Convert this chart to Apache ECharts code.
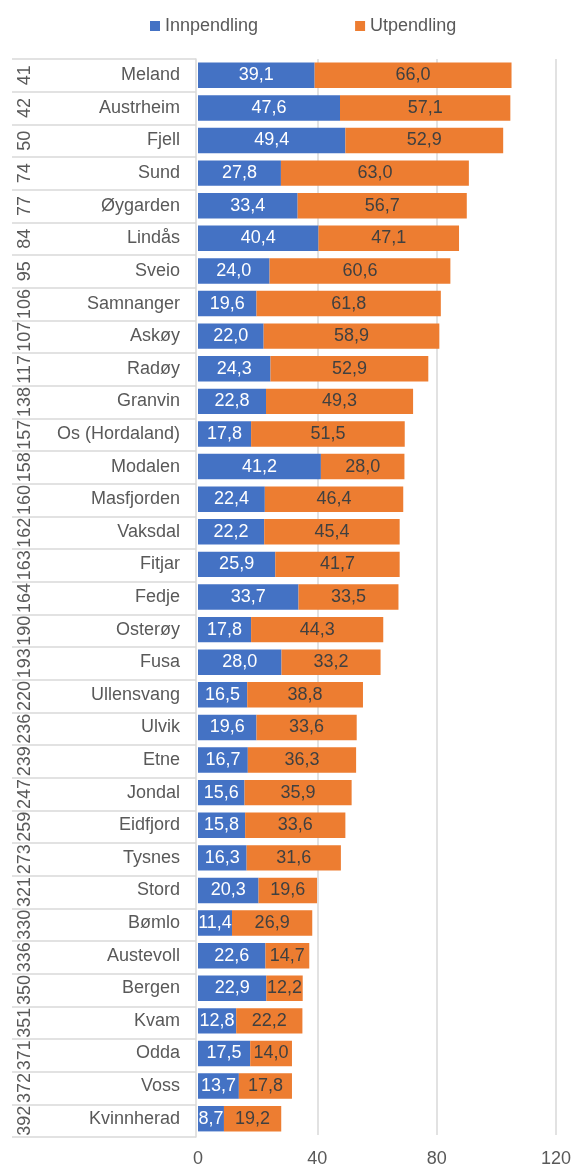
<!DOCTYPE html>
<html>
<head>
<meta charset="utf-8">
<script src="https://cdn.jsdelivr.net/npm/echarts@6/dist/echarts.min.js"></script>
<style>html,body{margin:0;padding:0;background:#fff}#c{width:574px;height:1168px}</style>
</head>
<body>
<div id="c"></div>
<script>
var ranks = ['41','42','50','74','77','84','95','106','107','117','138','157','158','160','162','163','164','190','193','220','236','239','247','259','273','321','330','336','350','351','371','372','392'];
var municipalities = ['Meland','Austrheim','Fjell','Sund','Øygarden','Lindås','Sveio','Samnanger','Askøy','Radøy','Granvin','Os (Hordaland)','Modalen','Masfjorden','Vaksdal','Fitjar','Fedje','Osterøy','Fusa','Ullensvang','Ulvik','Etne','Jondal','Eidfjord','Tysnes','Stord','Bømlo','Austevoll','Bergen','Kvam','Odda','Voss','Kvinnherad'];
var innpendling = [39.1,47.6,49.4,27.8,33.4,40.4,24.0,19.6,22.0,24.3,22.8,17.8,41.2,22.4,22.2,25.9,33.7,17.8,28.0,16.5,19.6,16.7,15.6,15.8,16.3,20.3,11.4,22.6,22.9,12.8,17.5,13.7,8.7];
var utpendling = [66.0,57.1,52.9,63.0,56.7,47.1,60.6,61.8,58.9,52.9,49.3,51.5,28.0,46.4,45.4,41.7,33.5,44.3,33.2,38.8,33.6,36.3,35.9,33.6,31.6,19.6,26.9,14.7,12.2,22.2,14.0,17.8,19.2];
var xTicks = [0,40,80,120];

var FONT = '"Liberation Sans", Arial, sans-serif';
function fmt(p){ return p.value.toFixed(1).replace('.', ','); }

var chart = echarts.init(document.getElementById('c'), null, {renderer:'canvas'});
chart.setOption({
  animation: false,
  textStyle: {fontFamily: FONT},
  legend: {
    data: ['Innpendling','Utpendling'],
    left: 145, top: 12,
    itemWidth: 10, itemHeight: 10, itemGap: 97,
    icon: 'rect',
    textStyle: {fontSize: 18, color: '#595959', fontFamily: FONT}
  },
  grid: [
    {left: 198, right: 17, top: 59, bottom: 31},
    {left: 12, right: 378, top: 59, bottom: 31}
  ],
  xAxis: [
    {type: 'value', gridIndex: 0, min: xTicks[0], max: xTicks[xTicks.length-1], interval: 40,
     axisLine: {show: false}, axisTick: {show: false},
     axisLabel: {fontSize: 18, color: '#595959', margin: 15, fontFamily: FONT},
     splitLine: {show: true, showMinLine: false, lineStyle: {color: '#d9d9d9', width: 1.5}}},
    {type: 'value', gridIndex: 1, min: 0, max: 1, show: false}
  ],
  yAxis: [
    {type: 'category', gridIndex: 0, data: municipalities, inverse: true,
     axisLine: {show: false}, axisTick: {show: false},
     axisLabel: {fontSize: 18, color: '#595959', margin: 18, interval: 0, fontFamily: FONT}},
    {type: 'category', gridIndex: 1, data: ranks, inverse: true, position: 'left',
     axisLine: {show: false}, axisTick: {show: false},
     splitLine: {show: true, interval: 0, lineStyle: {color: '#d9d9d9', width: 1.5}},
     axisLabel: {inside: true, rotate: 90, margin: 4, interval: 0, fontSize: 18, color: '#595959', fontFamily: FONT}},
    {type: 'category', gridIndex: 1, data: ranks, inverse: true, position: 'right',
     axisLine: {show: true, lineStyle: {color: '#d9d9d9', width: 1.5}}, axisTick: {show: false},
     axisLabel: {show: false}}
  ],
  series: [
    {name: 'Innpendling', type: 'bar', stack: 'a', xAxisIndex: 0, yAxisIndex: 0,
     data: innpendling, barCategoryGap: '22%',
     itemStyle: {color: '#4472C4'},
     label: {show: true, position: 'inside', formatter: fmt, color: '#ffffff', fontSize: 18, fontFamily: FONT}},
    {name: 'Utpendling', type: 'bar', stack: 'a', xAxisIndex: 0, yAxisIndex: 0,
     data: utpendling, barCategoryGap: '22%',
     itemStyle: {color: '#ED7D31'},
     label: {show: true, position: 'inside', formatter: fmt, color: '#404040', fontSize: 18, fontFamily: FONT}}
  ]
});
</script>
</body>
</html>
